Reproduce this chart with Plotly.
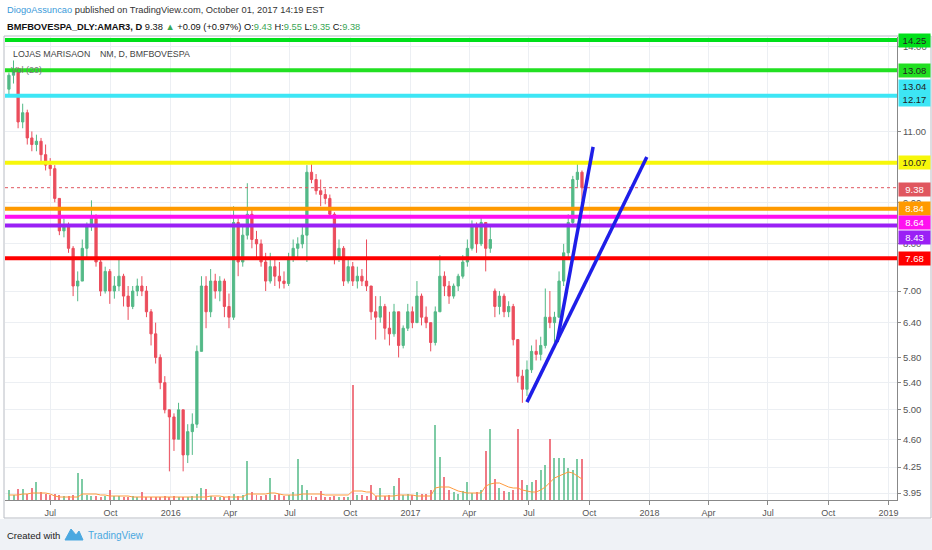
import math
import pandas as pd
import plotly.graph_objects as go

# weekly bars, AMAR3 (Lojas Marisa)
week_start = "2015-04-29"

open_ = [12.4, 12.9, 13.1, 11.3, 11.6, 10.8, 10.6, 10.7, 10.3, 10.0,
         9.9, 9.1, 8.3, 8.4, 7.9, 7.1, 7.2, 7.9, 8.4, 8.6,
         7.6, 7.0, 7.4, 7.0, 7.1, 7.3, 6.9, 6.7, 7.0, 7.1,
         7.0, 6.6, 6.2, 5.8, 5.4, 5.0, 4.9, 4.6, 5.0, 4.4,
         4.7, 4.8, 5.9, 7.1, 6.6, 7.2, 7.0, 7.2, 6.7, 6.5,
         8.5, 7.6, 8.2, 8.7, 8.1, 8.0, 7.6, 7.2, 7.5, 7.3,
         7.2, 7.15, 7.7, 7.9, 8.0, 8.2, 9.8, 9.6, 9.3, 9.2,
         9.1, 8.7, 7.7, 7.9, 7.2, 7.5, 7.2, 7.3, 7.2, 7.1,
         6.6, 6.5, 6.7, 6.3, 6.2, 6.6, 6.0, 6.3, 6.6, 6.4,
         6.9, 6.5, 6.4, 6.05, 6.6, 7.3, 7.1, 6.9, 7.1, 7.3,
         7.6, 7.9, 8.4, 8.0, 8.5, 7.9, 7.0, 6.7, 6.9, 6.6,
         6.7, 6.1, 5.5, 5.3, 5.6, 5.9, 5.85, 6.0, 6.5, 6.4,
         6.5, 7.2, 7.8, 8.5, 9.6, 9.8]
high = [13.0, 13.45, 13.2, 11.9, 11.7, 11.0, 10.9, 10.8, 10.6, 10.2,
        10.0, 9.1, 8.6, 8.5, 7.95, 7.4, 8.1, 8.5, 9.05, 8.7,
        7.7, 7.5, 7.45, 7.3, 7.7, 7.35, 7.1, 7.1, 7.25, 7.3,
        7.1, 6.65, 6.4, 5.85, 5.5, 5.0, 4.95, 5.1, 5.0, 4.8,
        4.95, 6.0, 7.3, 7.3, 7.45, 7.35, 7.3, 7.25, 6.95, 8.9,
        8.6, 8.4, 9.5, 8.8, 8.3, 8.1, 7.8, 7.8, 7.65, 7.6,
        7.4, 7.8, 8.1, 8.15, 8.4, 10.0, 10.05, 9.75, 9.6, 9.35,
        9.2, 8.75, 8.1, 7.95, 7.7, 7.6, 7.5, 7.45, 8.1, 7.1,
        6.9, 6.9, 6.75, 6.6, 6.75, 6.6, 6.35, 6.75, 6.7, 7.2,
        6.95, 6.7, 6.4, 6.7, 7.75, 7.4, 7.2, 7.15, 7.35, 7.75,
        8.1, 8.55, 8.5, 8.65, 8.5, 8.45, 7.05, 7.0, 6.95, 6.8,
        6.75, 6.1, 5.6, 5.75, 6.0, 6.1, 6.15, 7.05, 7.0, 6.6,
        7.4, 8.0, 8.7, 9.7, 10.1, 9.85]
low = [12.2, 12.6, 11.1, 11.1, 10.6, 10.4, 10.4, 10.1, 9.85, 9.7,
       9.0, 8.2, 8.15, 7.8, 6.9, 6.8, 7.2, 7.7, 8.3, 7.5,
       6.9, 6.95, 6.75, 6.85, 7.0, 6.7, 6.45, 6.65, 6.9, 6.9,
       6.5, 6.0, 5.7, 5.3, 4.95, 4.2, 4.45, 4.6, 4.2, 4.3,
       4.4, 4.75, 5.9, 6.3, 6.5, 6.85, 6.8, 6.5, 6.3, 6.45,
       7.3, 7.5, 8.1, 7.9, 7.7, 7.5, 7.0, 7.15, 7.1, 7.05,
       7.05, 7.1, 7.6, 7.7, 7.9, 7.6, 9.5, 9.2, 8.9, 8.95,
       8.65, 7.55, 7.6, 7.1, 7.15, 7.1, 7.05, 7.1, 7.0, 6.45,
       6.1, 6.4, 6.1, 6.0, 6.15, 5.8, 5.95, 6.25, 6.3, 6.4,
       6.35, 6.3, 5.9, 6.0, 6.6, 6.9, 6.75, 6.85, 7.0, 7.25,
       7.5, 7.85, 7.8, 7.95, 7.4, 7.8, 6.5, 6.55, 6.5, 6.5,
       6.0, 5.4, 5.1, 5.2, 5.55, 5.75, 5.75, 5.95, 6.3, 6.05,
       6.5, 7.1, 7.7, 8.4, 9.4, 9.05]
close = [12.9, 13.1, 11.3, 11.6, 10.8, 10.6, 10.7, 10.3, 10.0, 9.9,
         9.1, 8.3, 8.4, 7.9, 7.1, 7.2, 7.9, 8.4, 8.6, 7.6,
         7.0, 7.4, 7.0, 7.1, 7.3, 6.9, 6.7, 7.0, 7.1, 7.0,
         6.6, 6.2, 5.8, 5.4, 5.0, 4.9, 4.6, 5.0, 4.4, 4.7,
         4.8, 5.9, 7.1, 6.6, 7.2, 7.0, 7.2, 6.7, 6.5, 8.5,
         7.6, 8.2, 8.7, 8.1, 8.0, 7.6, 7.2, 7.5, 7.3, 7.2,
         7.15, 7.7, 7.9, 8.0, 8.2, 9.8, 9.6, 9.3, 9.2, 9.1,
         8.7, 7.7, 7.9, 7.2, 7.5, 7.2, 7.3, 7.2, 7.1, 6.6,
         6.5, 6.7, 6.3, 6.2, 6.6, 6.0, 6.3, 6.6, 6.4, 6.9,
         6.5, 6.4, 6.05, 6.6, 7.3, 7.1, 6.9, 7.1, 7.3, 7.6,
         7.9, 8.4, 8.0, 8.5, 7.9, 8.1, 6.7, 6.9, 6.6, 6.7,
         6.1, 5.5, 5.3, 5.6, 5.9, 5.85, 6.0, 6.5, 6.4, 6.5,
         7.2, 7.8, 8.5, 9.6, 9.8, 9.38]

# volume in thousands of shares, and the Vol(20) average line
volume = [500, 250, 550, 550, 300, 600, 900, 400, 300, 250,
          300, 250, 200, 200, 250, 1350, 1050, 250, 200, 200,
          150, 200, 500, 200, 200, 150, 150, 200, 150, 400,
          150, 150, 150, 150, 200, 150, 200, 150, 150, 150,
          200, 300, 600, 550, 200, 150, 150, 150, 200, 300,
          200, 250, 1950, 400, 250, 200, 250, 1100, 250, 300,
          200, 250, 400, 2050, 750, 500, 200, 150, 450, 150,
          150, 200, 150, 150, 150, 5750, 250, 250, 200, 750,
          200, 600, 200, 250, 700, 1100, 250, 300, 250, 400,
          300, 300, 500, 3750, 2150, 1150, 500, 400, 300, 450,
          900, 350, 400, 500, 2450, 3550, 1050, 600, 450, 400,
          500, 3550, 1000, 750, 900, 1000, 1500, 1750, 3050, 2100,
          2100, 2100, 1600, 1500, 2050, 2050]
vol_ma = [250, 250, 250, 300, 300, 350, 350, 350, 350, 300,
          200, 150, 150, 150, 150, 150, 300, 300, 300, 300,
          250, 250, 200, 200, 200, 200, 200, 150, 150, 150,
          150, 150, 150, 150, 150, 150, 150, 150, 150, 150,
          150, 150, 150, 150, 200, 200, 200, 150, 150, 150,
          150, 150, 300, 300, 300, 300, 300, 350, 350, 300,
          250, 250, 250, 250, 300, 300, 300, 300, 300, 250,
          250, 250, 250, 250, 250, 450, 450, 450, 400, 400,
          200, 200, 200, 200, 200, 250, 250, 250, 250, 200,
          200, 200, 200, 600, 650, 650, 650, 550, 450, 400,
          350, 350, 350, 350, 700, 800, 850, 850, 750, 650,
          600, 600, 500, 450, 400, 400, 500, 650, 900, 1100,
          1200, 1300, 1400, 1350, 1200, 1050]

# horizontal levels drawn by the author
levels = [14.25, 13.08, 12.17, 10.07, 8.84, 8.64, 8.43, 7.68]
level_colors = ["#00e01a", "#22e022", "#3de6f5", "#f7f70a", "#ff9a00", "#ff10f0", "#9a20f5", "#ff0000"]
level_text_colors = ["#222", "#222", "#222", "#222", "white", "white", "white", "white"]
level_badges = ["14.25", "13.08", "13.04<br>12.17", "10.07", "8.84", "8.64", "8.43", "7.68"]
level_badge_shift = [0, 0, 3, 0, 0, -6, -12, 0]
last_price = 9.38

# two trend lines
trend_a_x = ["2017-06-28", "2017-12-28"]
trend_a_y = [5.11, 10.23]
trend_b_x = ["2017-08-13", "2017-10-07"]
trend_b_y = [6.06, 10.53]

y_ticks = [3.95, 4.25, 4.60, 5.00, 5.40, 5.80, 6.40, 7.00, 8.00, 9.00, 11.00, 14.00]
x_tick_dates = ["2015-07-01", "2015-10-01", "2016-01-01", "2016-04-01", "2016-07-01",
                "2016-10-01", "2017-01-01", "2017-04-01", "2017-07-01", "2017-10-01",
                "2018-01-01", "2018-04-01", "2018-07-01", "2018-10-01", "2019-01-01"]
x_tick_text = ["Jul", "Oct", "2016", "Apr", "Jul", "Oct", "2017", "Apr", "Jul", "Oct",
               "2018", "Apr", "Jul", "Oct", "2019"]

X_START, X_END = "2015-04-23", "2019-01-14"
FONT = "Liberation Sans, Arial, sans-serif"
FS = 9.5
UP, DOWN = "#53b987", "#eb4d5c"

dates = pd.date_range(week_start, periods=len(close), freq="7D")


def px(x):
    # pixel -> paper coords (plot area is x 5..897, y 37..500)
    return (x - 5) / 892


def py(y):
    return (500 - y) / 463


fig = go.Figure()

vol_colors = ["rgba(83,185,135,0.75)" if c >= o else "rgba(235,77,92,0.75)"
              for o, c in zip(open_, close)]
fig.add_trace(go.Bar(x=dates, y=volume, marker=dict(color=vol_colors, line=dict(width=0)),
                     width=3 * 86400000, yaxis="y2", hoverinfo="skip"))
fig.add_trace(go.Scatter(x=dates, y=vol_ma, mode="lines", yaxis="y2",
                         line=dict(color="#ff9a3c", width=1), hoverinfo="skip"))

fig.add_trace(go.Candlestick(
    x=dates, open=open_, high=high, low=low, close=close,
    increasing=dict(line=dict(color=UP, width=1), fillcolor=UP),
    decreasing=dict(line=dict(color=DOWN, width=1), fillcolor=DOWN),
    whiskerwidth=0,
))

for lv, col in zip(levels, level_colors):
    fig.add_trace(go.Scatter(x=[X_START, X_END], y=[lv, lv], mode="lines",
                             line=dict(color=col, width=4), hoverinfo="skip"))

fig.add_trace(go.Scatter(x=[X_START, X_END], y=[last_price, last_price], mode="lines",
                         line=dict(color="#e0575f", width=1, dash="dot"), hoverinfo="skip"))

for tx, ty in [(trend_a_x, trend_a_y), (trend_b_x, trend_b_y)]:
    fig.add_trace(go.Scatter(x=tx, y=ty, mode="lines",
                             line=dict(color="#1e1ee8", width=3.5), hoverinfo="skip"))

annotations = []
# price badges on the right scale
for lv, col, tc, txt, sh in zip(levels, level_colors, level_text_colors, level_badges, level_badge_shift):
    two = "<br>" in txt
    annotations.append(dict(
        x=1, xref="paper", y=math.log10(lv), yref="y", xanchor="left", yanchor="middle",
        xshift=1, yshift=sh, text=txt, showarrow=False, bgcolor=col,
        font=dict(family=FONT, size=FS, color=tc), width=31, height=26 if two else 13,
        align="center", borderpad=0,
    ))
annotations.append(dict(
    x=1, xref="paper", y=math.log10(last_price), yref="y", xanchor="left", yanchor="middle",
    xshift=1, yshift=-2, text=f"{last_price:.2f}", showarrow=False, bgcolor="#e0575f",
    font=dict(family=FONT, size=FS, color="white"), width=31, height=13, borderpad=0,
))

# header
annotations.append(dict(
    x=px(5), y=py(10), xref="paper", yref="paper", xanchor="left", yanchor="middle",
    showarrow=False, font=dict(family=FONT, size=9.3, color="#333"),
    text="<span style='color:#3a9ad9'>DiogoAssuncao</span> published on TradingView.com, "
         "October 01, 2017 14:19 EST",
))
G = "#3aa655"
annotations.append(dict(
    x=px(5), y=py(27), xref="paper", yref="paper", xanchor="left", yanchor="middle",
    showarrow=False, font=dict(family=FONT, size=9.3, color="#111"),
    text=f"<b>BMFBOVESPA_DLY:AMAR3, D</b> 9.38 <span style='color:{G}'>▲</span> +0.09 (+0.97%) "
         f"O:<span style='color:{G}'>9.43</span> H:<span style='color:{G}'>9.55</span> "
         f"L:<span style='color:{G}'>9.35</span> C:<span style='color:{G}'>9.38</span>",
))
annotations.append(dict(
    x=px(11), y=py(54), xref="paper", yref="paper", xanchor="left", yanchor="middle",
    showarrow=False, font=dict(family=FONT, size=8.8, color="#444"),
    text="LOJAS MARISAON\u00a0\u00a0\u00a0\u00a0NM, D, BMFBOVESPA",
))
annotations.append(dict(
    x=px(9), y=py(70), xref="paper", yref="paper", xanchor="left", yanchor="middle",
    showarrow=False, font=dict(family=FONT, size=9, color="#777"), text="Vol (20)",
))
# footer
annotations.append(dict(
    x=px(5), y=py(535), xref="paper", yref="paper", xanchor="left", yanchor="middle",
    showarrow=False, font=dict(family=FONT, size=9.5, color="#222"), text="Created with",
))
annotations.append(dict(
    x=px(86), y=py(535), xref="paper", yref="paper", xanchor="left", yanchor="middle",
    showarrow=False, font=dict(family=FONT, size=10, color="#4aa8e0"), text="TradingView",
))

logo = "M {} {} L {} {} L {} {} L {} {} L {} {} Z".format(
    px(65), py(540), px(71), py(529), px(76), py(535), px(79), py(531), px(83), py(540))

shapes = [
    dict(type="rect", xref="paper", yref="paper", x0=px(0), x1=px(932), y0=py(550), y1=py(519),
         fillcolor="#eff2f6", line=dict(width=0), layer="below"),
    dict(type="rect", xref="paper", yref="paper", x0=px(4), x1=px(931), y0=py(518), y1=py(36),
         fillcolor="rgba(0,0,0,0)", line=dict(color="#b8bcc4", width=1)),
    dict(type="path", xref="paper", yref="paper", path=logo,
         fillcolor="#4aa8e0", line=dict(color="#4aa8e0", width=1)),
]

fig.update_layout(
    width=932, height=550,
    margin=dict(l=5, r=35, t=37, b=50),
    paper_bgcolor="white", plot_bgcolor="white",
    showlegend=False,
    font=dict(family=FONT, size=FS, color="#555"),
    annotations=annotations,
    shapes=shapes,
    bargap=0,
    xaxis=dict(
        type="date", range=[X_START, X_END], rangeslider=dict(visible=False),
        tickvals=x_tick_dates, ticktext=x_tick_text,
        showgrid=True, gridcolor="#eceff3", gridwidth=1,
        ticks="outside", ticklen=4, tickcolor="#888",
        showline=True, linecolor="#888", linewidth=1, zeroline=False,
        tickfont=dict(family=FONT, size=9, color="#555"),
    ),
    yaxis=dict(
        type="log", side="right", range=[0.588, 1.1576],
        tickvals=y_ticks, tickformat=".2f",
        showgrid=True, gridcolor="#eceff3", gridwidth=1,
        ticks="outside", ticklen=3, tickcolor="#888",
        showline=True, linecolor="#888", linewidth=1, zeroline=False,
        tickfont=dict(family=FONT, size=FS, color="#555"),
    ),
    yaxis2=dict(overlaying="y", range=[0, 23150], visible=False),
)

# the page body has a default 8px margin; drop it so the figure sits at 0,0
fig.write_html("out.html", config={"displayModeBar": False},
               post_script="document.body.style.margin='0';")
